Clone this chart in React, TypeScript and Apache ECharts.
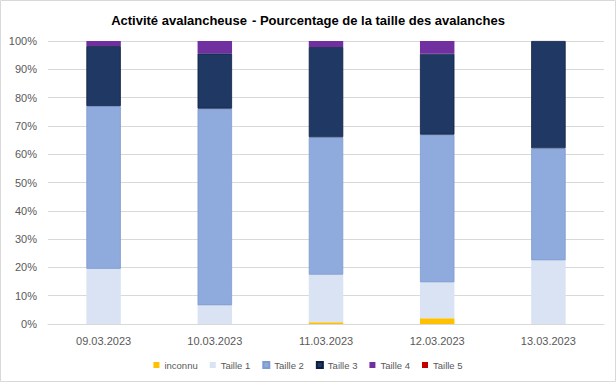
import React, { useEffect, useRef } from "react";
import * as echarts from "echarts";

const categories = ["09.03.2023", "10.03.2023", "11.03.2023", "12.03.2023", "13.03.2023"];
const seriesNames = ["inconnu", "Taille 1", "Taille 2", "Taille 3", "Taille 4", "Taille 5"];
const inconnu = [0, 0, 0.6, 2.0, 0];
const taille1 = [19.5, 6.6, 16.8, 12.7, 22.5];
const taille2 = [57.5, 69.5, 48.6, 52.2, 39.6];
const taille3 = [21.2, 19.5, 31.9, 28.6, 37.9];
const taille4 = [1.8, 4.4, 2.1, 4.5, 0];
const taille5 = [0, 0, 0, 0, 0];
const seriesData = [inconnu, taille1, taille2, taille3, taille4, taille5];
const colors = ["#FFC000", "#DAE3F3", "#8FAADC", "#203864", "#7030A0", "#C00000"];
const borders = ["#FFC000", "#DAE3F3", "#7F9BCF", "#0F1F3F", "#7030A0", "#C00000"];

export default function App() {
  const ref = useRef<HTMLDivElement>(null);
  useEffect(() => {
    if (!ref.current) return;
    const chart = echarts.init(ref.current, null, { renderer: "svg" });
    const font = "'Liberation Sans', Arial, sans-serif";
    chart.setOption({
      animation: false,
      textStyle: { fontFamily: font },
      title: {
        text: "{b|Activité avalancheuse} {n|- Pourcentage de la taille des avalanches}",
        left: "center",
        top: 6,
        textStyle: {
          rich: {
            b: { fontFamily: font, fontSize: 13, fontWeight: "bold", color: "#000" },
            n: { fontFamily: font, fontSize: 13, color: "#000" },
          },
        },
      },
      graphic: [
        {
          type: "rect",
          shape: { x: 0.5, y: 0.5, width: 615, height: 381 },
          style: { fill: "none", stroke: "#d9d9d9", lineWidth: 1 },
          silent: true,
        },
      ],
      legend: {
        bottom: 7,
        left: "center",
        itemWidth: 6,
        itemHeight: 6,
        itemGap: 12,
        icon: "rect",
        textStyle: { fontSize: 9.5, color: "#595959", fontFamily: font },
        data: seriesNames,
      },
      grid: { left: 48, right: 12, top: 41, bottom: 58, containLabel: false },
      xAxis: {
        type: "category",
        data: categories,
        axisLine: { lineStyle: { color: "#d9d9d9" } },
        axisTick: { show: false },
        axisLabel: { color: "#595959", fontSize: 11, margin: 11, fontFamily: font },
      },
      yAxis: {
        type: "value",
        min: 0,
        max: 100,
        interval: 10,
        axisLine: { show: false },
        axisTick: { show: false },
        splitLine: { lineStyle: { color: "#d9d9d9" } },
        axisLabel: { formatter: "{value}%", color: "#595959", fontSize: 11, margin: 11, fontFamily: font },
      },
      series: seriesNames.map((name, i) => ({
        name,
        type: "bar",
        stack: "total",
        barWidth: "31%",
        data: seriesData[i],
        itemStyle: {
          color: colors[i],
          borderColor: borders[i],
          borderWidth: i === 2 || i === 3 ? 0.8 : 0,
        },
      })),
    });
    return () => chart.dispose();
  }, []);
  return (
    <div
      ref={ref}
      style={{ position: "fixed", left: 0, top: 0, width: 616, height: 382, background: "#fff" }}
    />
  );
}
